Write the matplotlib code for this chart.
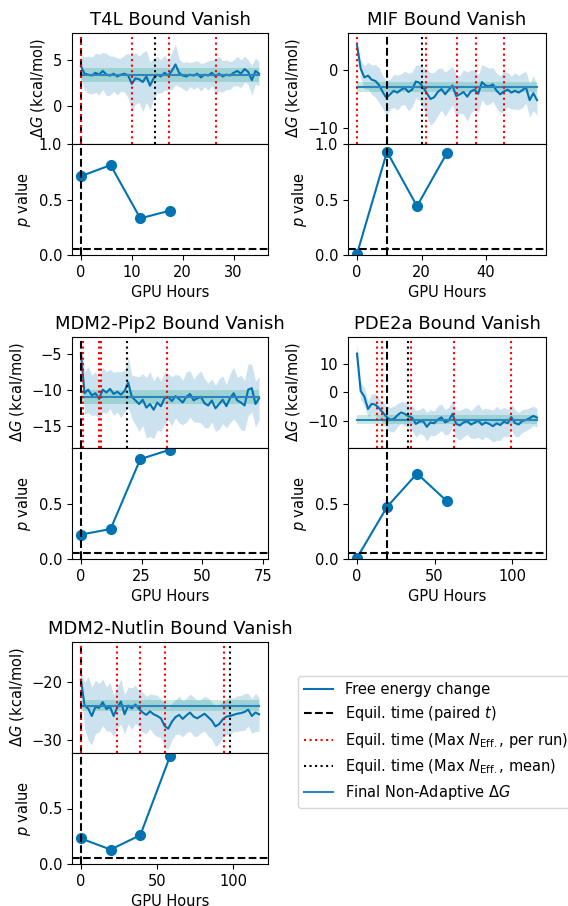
import numpy as np
import matplotlib
matplotlib.use("Agg")
import matplotlib.pyplot as plt

# ---------------- data ----------------
titles = ["T4L Bound Vanish", "MIF Bound Vanish", "MDM2-Pip2 Bound Vanish",
          "PDE2a Bound Vanish", "MDM2-Nutlin Bound Vanish"]

t_max = [35.0, 55.8, 73.5, 116.0, 117.0]

dg_t4l = [4.3, 3.5, 3.4, 3.3, 3.6, 3.4, 3.8, 3.4, 3.3, 3.5, 3.2, 3.4, 3.5, 3.3, 2.4,
          3.0, 2.9, 2.6, 3.2, 2.2, 3.0, 3.4, 3.2, 3.6, 3.3, 3.8, 4.5, 3.6, 3.3, 3.2,
          3.4, 3.3, 3.5, 3.1, 3.4, 3.3, 3.6, 3.2, 3.5, 3.2, 3.4, 3.3, 3.6, 3.8, 3.5,
          4.0, 3.7, 2.8, 3.8, 3.5]
hw_t4l = [1.2, 1.8, 2.0, 2.0, 2.1, 2.2, 2.0, 2.3, 2.1, 1.9, 2.0, 1.8, 2.0, 2.4, 3.0,
          2.8, 2.5, 3.2, 2.8, 2.6, 2.2, 2.0, 1.8, 1.9, 1.6, 2.0, 2.2, 1.5, 1.4, 1.6,
          1.3, 1.5, 1.4, 1.5, 1.3, 1.6, 1.4, 1.8, 1.9, 1.7, 1.6, 1.5, 1.4, 1.6, 1.5,
          1.4, 1.3, 1.6, 1.4, 1.3]

dg_mif = [4.2, 0.2, -1.3, -1.0, -1.7, -1.9, -2.6, -3.8, -4.8, -4.2, -3.6, -3.9, -3.4,
          -3.1, -3.8, -3.4, -2.0, -2.2, -3.0, -4.0, -5.0, -4.7, -3.8, -3.3, -4.2, -3.4,
          -2.7, -4.5, -4.2, -3.8, -4.6, -3.7, -3.4, -4.1, -2.1, -2.7, -2.8, -2.5, -3.6,
          -4.2, -3.7, -3.4, -3.9, -3.6, -3.9, -3.5, -3.0, -5.2, -4.0, -5.2]
hw_mif = [0.5, 1.5, 2.0, 2.3, 2.5, 2.8, 3.0, 2.8, 3.0, 2.6, 2.8, 3.0, 2.7, 2.9, 3.2,
          3.0, 2.8, 3.0, 3.5, 4.0, 4.5, 4.2, 4.0, 3.6, 3.8, 3.5, 3.3, 3.6, 3.2, 3.8,
          4.2, 3.7, 3.4, 3.2, 3.0, 3.3, 3.1, 2.9, 3.0, 3.2, 3.4, 3.0, 2.8, 3.1, 2.9,
          3.0, 2.7, 2.9, 3.0, 2.6]

dg_pip2 = [-5.0, -10.5, -10.0, -10.8, -10.5, -11.3, -10.0, -10.4, -9.9, -10.6, -10.3,
           -10.7, -10.2, -9.0, -11.0, -11.5, -12.0, -11.4, -12.5, -12.0, -12.8, -11.8,
           -12.3, -11.2, -11.0, -11.6, -10.9, -11.3, -11.8, -11.0, -10.6, -11.5, -11.2,
           -11.0, -11.9, -12.2, -11.5, -12.6, -12.0, -11.4, -12.3, -11.2, -10.5, -11.5,
           -11.8, -12.2, -10.0, -9.8, -12.0, -11.2]
hw_pip2 = [1.0, 3.0, 3.2, 2.8, 3.0, 2.6, 3.1, 2.9, 2.7, 3.0, 2.8, 3.2, 2.9, 3.5, 3.0,
           3.4, 3.8, 3.6, 4.2, 4.5, 4.0, 3.8, 3.5, 3.6, 3.2, 3.4, 3.0, 3.3, 3.1, 3.5,
           3.2, 3.0, 3.3, 3.6, 3.4, 3.1, 3.0, 3.2, 3.5, 3.3, 3.0, 3.4, 3.6, 3.2, 3.8,
           3.5, 3.6, 3.3, 3.2, 3.0]

dg_pde2a = [13.5, 0.5, -1.5, -5.8, -4.0, -4.3, -5.5, -7.0, -8.5, -9.5, -9.3, -8.0, -7.0,
            -7.5, -8.3, -8.8, -11.0, -10.2, -10.0, -12.0, -10.5, -10.8, -9.5, -8.7,
            -10.5, -9.8, -7.5, -11.0, -11.5, -10.5, -10.0, -11.2, -10.6, -9.8, -11.3,
            -10.5, -11.0, -11.8, -10.8, -11.4, -10.2, -10.8, -8.6, -10.7, -11.2, -10.0,
            -9.6, -9.0, -8.2, -8.8]
hw_pde2a = [3.5, 3.0, 3.2, 2.8, 3.5, 3.8, 3.3, 3.6, 4.0, 4.2, 4.5, 4.0, 3.8, 4.2, 3.9,
            4.4, 4.6, 4.2, 4.8, 5.0, 4.5, 4.3, 4.8, 4.6, 4.4, 4.7, 4.5, 4.9, 5.2, 5.0,
            4.6, 4.8, 5.5, 5.8, 5.3, 5.0, 5.2, 5.6, 5.9, 5.4, 5.0, 4.8, 4.5, 4.7, 4.2,
            4.0, 3.8, 3.6, 3.4, 3.3]

dg_nutlin = [-19.5, -24.0, -24.5, -25.8, -24.2, -24.4, -23.4, -24.6, -24.2, -25.8, -24.3,
             -23.3, -25.5, -24.0, -24.5, -23.8, -24.6, -25.2, -25.6, -25.0, -25.5, -25.8,
             -26.2, -27.5, -28.0, -26.8, -26.0, -25.6, -26.3, -25.7, -25.2, -25.9, -26.2,
             -25.8, -25.4, -26.0, -26.6, -27.6, -27.2, -26.4, -25.9, -25.8, -25.6, -25.4,
             -25.3, -25.1, -24.7, -25.8, -25.2, -25.5]
hw_nutlin = [1.5, 4.0, 5.5, 5.0, 4.6, 4.2, 4.0, 3.8, 4.2, 3.6, 3.5, 3.9, 3.4, 3.2, 3.6,
             3.3, 3.1, 3.5, 3.2, 3.0, 3.4, 3.6, 3.3, 3.8, 3.5, 3.2, 3.0, 3.3, 3.1, 3.0,
             3.2, 3.4, 3.1, 2.9, 3.0, 3.3, 3.2, 3.5, 3.4, 3.1, 3.0, 3.2, 2.9, 3.1, 3.0,
             3.2, 2.8, 3.0, 3.3, 2.9]

dg_series = [dg_t4l, dg_mif, dg_pip2, dg_pde2a, dg_nutlin]
hw_series = [hw_t4l, hw_mif, hw_pip2, hw_pde2a, hw_nutlin]

final_dg = [3.4, -3.0, -11.0, -9.5, -24.0]
final_err = [0.75, 0.85, 1.0, 1.6, 1.0]

equil_paired = [0.0, 9.3, 0.0, 19.5, 0.0]
equil_neff_runs = [[0.1, 9.95, 17.35, 26.6],
                   [0.0, 21.3, 31.0, 37.0, 45.5],
                   [0.7, 7.6, 8.2, 35.5],
                   [13.1, 16.3, 34.6, 62.8, 99.2],
                   [0.0, 23.5, 38.6, 55.2, 94.0]]
equil_neff_mean = [14.5, 20.3, 19.2, 32.7, 97.7]

p_times = [[0.0, 5.83, 11.67, 17.5],
           [0.0, 9.3, 18.6, 27.9],
           [0.0, 12.25, 24.5, 36.75],
           [0.0, 19.4, 38.7, 58.0],
           [0.0, 19.5, 39.0, 58.5]]
p_values = [[0.71, 0.81, 0.33, 0.40],
            [0.01, 0.93, 0.44, 0.92],
            [0.22, 0.27, 0.90, 0.985],
            [0.01, 0.47, 0.77, 0.52],
            [0.23, 0.13, 0.26, 0.97]]
p_threshold = 0.05

top_ylims = [(-4.1, 7.9), (-12.7, 6.3), (-18.1, -2.7), (-19.4, 19.3), (-32.2, -13.0)]
top_yticks = [[0, 5], [-10, 0], [-15, -10, -5], [-10, 0, 10], [-30, -20]]
bottom_yticks = [[0, 0.5, 1.0], [0, 0.5, 1.0], [0, 0.5], [0, 0.5], [0, 0.5]]

# ---------------- figure ----------------
W, H = 568, 906
fig = plt.figure(figsize=(W / 100, H / 100), dpi=100)

col_left = [72, 348]
col_width = [196, 198]
row_top = [33, 337, 642]
ax_h = 111

blue = "#0173b2"
green = "#029e73"
FS = 10.5

handles = []
for i in range(5):
    r, c = divmod(i, 2)
    x0 = col_left[c] / W
    w = col_width[c] / W
    ytop = row_top[r]
    ax_top = fig.add_axes([x0, 1 - (ytop + ax_h) / H, w, ax_h / H])
    ax_bot = fig.add_axes([x0, 1 - (ytop + 2 * ax_h) / H, w, ax_h / H], sharex=ax_top)

    dg = np.array(dg_series[i])
    hw = np.array(hw_series[i])
    t = np.linspace(0, t_max[i], len(dg))

    ax_top.fill_between(t, dg - hw, dg + hw, color=blue, alpha=0.2, linewidth=0)
    h_fe, = ax_top.plot(t, dg, color=blue, lw=1.5, label="Free energy change")
    ax_top.fill_between([t[0], t[-1]], final_dg[i] - final_err[i], final_dg[i] + final_err[i],
                        color=green, alpha=0.22, linewidth=0)
    h_fin, = ax_top.plot([t[0], t[-1]], [final_dg[i]] * 2, color="#2b86c0", lw=1.5,
                         label=r"Final Non-Adaptive $\Delta G$")

    h_pt = ax_top.axvline(equil_paired[i], color="black", ls="--", lw=1.5,
                          label=r"Equil. time (paired $t$)")
    for xv in equil_neff_runs[i]:
        h_run = ax_top.axvline(xv, color="red", ls=":", lw=1.5,
                               label=r"Equil. time (Max $N_{\mathrm{Eff.}}$, per run)")
    h_mean = ax_top.axvline(equil_neff_mean[i], color="black", ls=":", lw=1.5,
                            label=r"Equil. time (Max $N_{\mathrm{Eff.}}$, mean)")

    ax_top.set_ylim(*top_ylims[i])
    ax_top.set_yticks(top_yticks[i])
    ax_top.set_ylabel(r"$\Delta G$ (kcal/mol)", fontsize=FS)
    ax_top.set_title(titles[i], fontsize=13)
    ax_top.tick_params(axis="x", bottom=False, labelbottom=False)
    ax_top.tick_params(axis="y", labelsize=FS)

    ax_bot.plot(p_times[i], p_values[i], color=blue, marker="o", ms=7, lw=1.5)
    ax_bot.axvline(equil_paired[i], color="black", ls="--", lw=1.5)
    ax_bot.axhline(p_threshold, color="black", ls="--", lw=1.5)
    ax_bot.set_ylim(0, 1)
    ax_bot.set_yticks(bottom_yticks[i])
    ax_bot.set_ylabel(r"$p$ value", fontsize=FS)
    ax_bot.set_xlabel("GPU Hours", fontsize=FS)
    ax_bot.tick_params(labelsize=FS)

    handles = [h_fe, h_pt, h_run, h_mean, h_fin]

fig.legend(handles=handles, labels=[h.get_label() for h in handles],
           loc="upper left", bbox_to_anchor=(291 / W, 1 - 669 / H),
           fontsize=FS, frameon=True)

fig.savefig("out.png", dpi=100)
